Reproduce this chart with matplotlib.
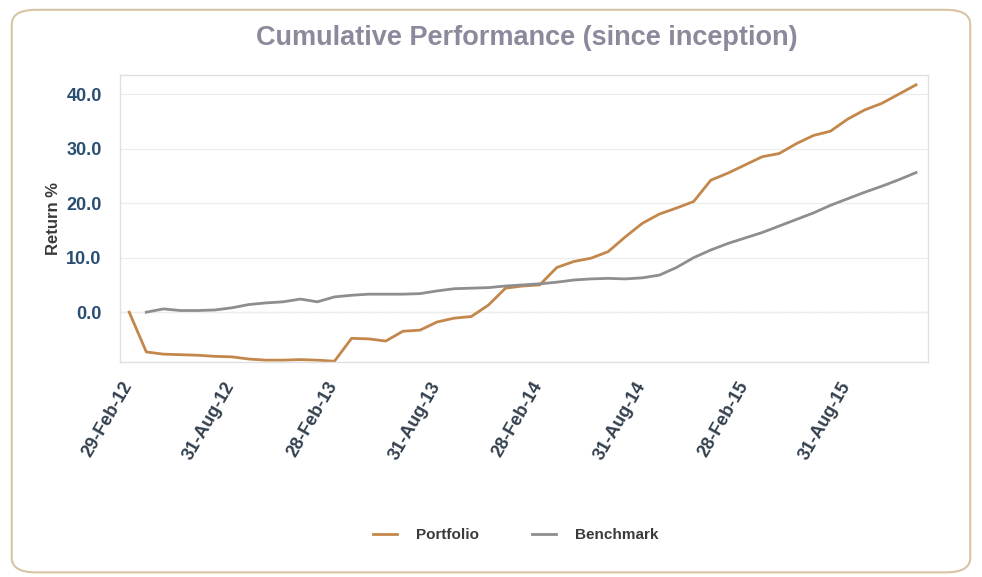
# Cumulative performance since inception - portfolio vs benchmark, monthly

import matplotlib
matplotlib.use('Agg')
import matplotlib.pyplot as plt
import matplotlib.transforms as mtransforms
from matplotlib.patches import FancyBboxPatch

# month index 0 = 29-Feb-12, one point per month-end
tick_pos = [0, 6, 12, 18, 24, 30, 36, 42]
tick_labels = ['29-Feb-12', '31-Aug-12', '28-Feb-13', '31-Aug-13',
               '28-Feb-14', '31-Aug-14', '28-Feb-15', '31-Aug-15']

portfolio_x = list(range(0, 47))
portfolio = [0.0, -7.3, -7.7, -7.8, -7.9, -8.1, -8.2, -8.6, -8.8, -8.8,
             -8.7, -8.8, -9.0, -4.8, -4.9, -5.3, -3.5, -3.3, -1.8, -1.1,
             -0.8, 1.3, 4.4, 4.8, 5.0, 8.2, 9.3, 9.9, 11.1, 13.8,
             16.3, 18.0, 19.1, 20.3, 24.2, 25.5, 27.0, 28.5, 29.1, 30.9,
             32.4, 33.2, 35.4, 37.1, 38.3, 40.0, 41.7]

benchmark_x = list(range(1, 47))
benchmark = [0.0, 0.6, 0.3, 0.3, 0.4, 0.8, 1.4, 1.7, 1.9, 2.4,
             1.9, 2.8, 3.1, 3.3, 3.3, 3.3, 3.4, 3.9, 4.3, 4.4,
             4.5, 4.8, 5.0, 5.2, 5.5, 5.9, 6.1, 6.2, 6.1, 6.3,
             6.8, 8.2, 10.0, 11.4, 12.6, 13.6, 14.6, 15.8, 17.0, 18.2,
             19.6, 20.8, 22.0, 23.1, 24.3, 25.6]

plt.rcParams['font.family'] = ['Liberation Sans', 'DejaVu Sans']

fig = plt.figure(figsize=[9.82, 5.77], dpi=100)

# rounded frame round the whole chart
frame = FancyBboxPatch((0.012, 0.008), 0.976, 0.975, boxstyle='round,pad=0,rounding_size=0.025',
                       transform=fig.transFigure, fill=False, edgecolor='#d8c3a5', linewidth=1.5)
fig.patches.append(frame)

ax = fig.add_axes([0.122, 0.373, 0.823, 0.497])

ax.plot(portfolio_x, portfolio, '-', color='#c4874b', linewidth=2, label='Portfolio')
ax.plot(benchmark_x, benchmark, '-', color='#8e8e8e', linewidth=2, label='Benchmark')

ax.set_xlim(-0.55, 46.7)
ax.set_ylim(-9.1, 43.5)
ax.set_yticks([0, 10, 20, 30, 40])
ax.set_yticklabels(['%.1f' % v for v in [0, 10, 20, 30, 40]])
ax.set_xticks(tick_pos)
ax.set_xticklabels(tick_labels, rotation=60, ha='right', rotation_mode='anchor')

ax.tick_params(axis='y', length=0, pad=13, labelsize=13, labelcolor='#2a4d72')
ax.tick_params(axis='x', length=0, pad=12, labelsize=13, labelcolor='#33404e')
shift = mtransforms.ScaledTranslation(-8/100, 0, fig.dpi_scale_trans)
for lab in ax.get_xticklabels():
    lab.set_fontweight('bold')
    lab.set_transform(lab.get_transform() + shift)
for lab in ax.get_yticklabels():
    lab.set_fontweight('bold')

ax.grid(axis='y', color='#ececec', linewidth=0.8)
ax.axhline(0, color='#dcdcdc', linewidth=1, linestyle=(0, (8, 3)), zorder=1)
for s in ax.spines.values():
    s.set_color('#e0e0e0')
    s.set_linewidth(1)

ax.set_ylabel('Return %', fontsize=12, fontweight='bold', color='#3a3a3a', labelpad=4)
fig.text(0.536, 0.935, 'Cumulative Performance (since inception)', ha='center', va='center',
         fontsize=19.5, fontweight='bold', color='#8a8a9c')

leg = fig.legend(loc='center', bbox_to_anchor=(0.525, 0.072), ncol=2, frameon=False,
                 fontsize=11, handlelength=1.6, columnspacing=3.5, handletextpad=1.2)
for t in leg.get_texts():
    t.set_fontweight('bold')
    t.set_color('#3a3a3a')

plt.savefig('out.png')
